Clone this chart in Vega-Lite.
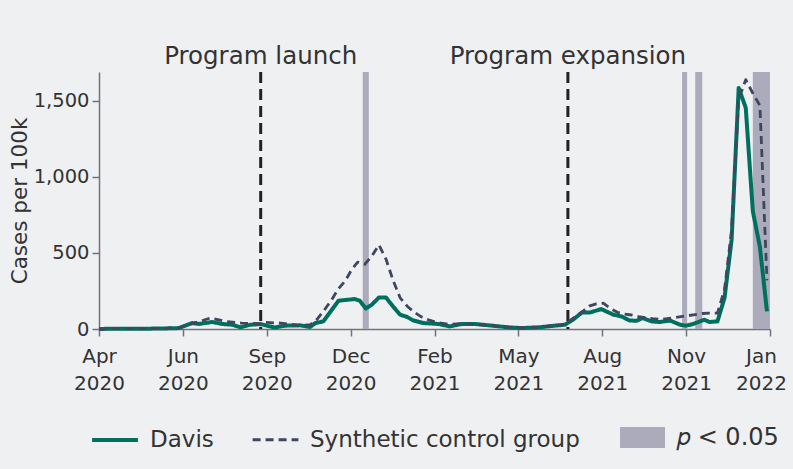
{
  "$schema": "https://vega.github.io/schema/vega-lite/v6.json",
  "width": 671,
  "height": 257,
  "autosize": {"type": "none"},
  "padding": {"left": 99, "top": 72, "right": 23, "bottom": 140},
  "background": "#eff0f2",
  "config": {
    "view": {"stroke": null},
    "font": "DejaVu Sans",
    "axis": {
      "domainColor": "#6f747b",
      "domainWidth": 1.5,
      "tickColor": "#6f747b",
      "tickWidth": 1.5,
      "tickSize": 7,
      "labelColor": "#333333",
      "labelFontSize": 19.5,
      "titleColor": "#333333",
      "titleFontSize": 22,
      "titleFontWeight": "normal",
      "grid": false
    },
    "legend": {
      "labelColor": "#333333",
      "labelFontSize": 23,
      "labelLimit": 400,
      "layout": {"bottom": {"anchor": "middle", "direction": "horizontal", "margin": 40}}
    }
  },
  "datasets": {
    "cases": [
      {"date": "2020-04-01", "group": "Davis", "value": 0},
      {"date": "2020-04-15", "group": "Davis", "value": 2},
      {"date": "2020-05-01", "group": "Davis", "value": 1},
      {"date": "2020-05-15", "group": "Davis", "value": 2},
      {"date": "2020-06-01", "group": "Davis", "value": 3},
      {"date": "2020-06-19", "group": "Davis", "value": 6},
      {"date": "2020-07-02", "group": "Davis", "value": 39},
      {"date": "2020-07-09", "group": "Davis", "value": 33},
      {"date": "2020-07-22", "group": "Davis", "value": 46},
      {"date": "2020-08-01", "group": "Davis", "value": 33},
      {"date": "2020-08-11", "group": "Davis", "value": 28},
      {"date": "2020-08-19", "group": "Davis", "value": 11},
      {"date": "2020-08-29", "group": "Davis", "value": 28},
      {"date": "2020-09-08", "group": "Davis", "value": 32},
      {"date": "2020-09-15", "group": "Davis", "value": 20},
      {"date": "2020-09-22", "group": "Davis", "value": 10},
      {"date": "2020-10-02", "group": "Davis", "value": 22},
      {"date": "2020-10-17", "group": "Davis", "value": 24},
      {"date": "2020-10-27", "group": "Davis", "value": 13},
      {"date": "2020-11-01", "group": "Davis", "value": 39},
      {"date": "2020-11-09", "group": "Davis", "value": 50},
      {"date": "2020-11-24", "group": "Davis", "value": 186},
      {"date": "2020-12-10", "group": "Davis", "value": 197},
      {"date": "2020-12-15", "group": "Davis", "value": 186},
      {"date": "2020-12-21", "group": "Davis", "value": 135},
      {"date": "2020-12-27", "group": "Davis", "value": 160},
      {"date": "2021-01-03", "group": "Davis", "value": 207},
      {"date": "2021-01-10", "group": "Davis", "value": 207},
      {"date": "2021-01-17", "group": "Davis", "value": 148},
      {"date": "2021-01-24", "group": "Davis", "value": 94},
      {"date": "2021-01-31", "group": "Davis", "value": 79},
      {"date": "2021-02-06", "group": "Davis", "value": 56},
      {"date": "2021-02-16", "group": "Davis", "value": 39},
      {"date": "2021-03-03", "group": "Davis", "value": 33},
      {"date": "2021-03-14", "group": "Davis", "value": 17},
      {"date": "2021-03-26", "group": "Davis", "value": 33},
      {"date": "2021-04-08", "group": "Davis", "value": 33},
      {"date": "2021-04-25", "group": "Davis", "value": 22},
      {"date": "2021-05-11", "group": "Davis", "value": 11},
      {"date": "2021-05-24", "group": "Davis", "value": 6},
      {"date": "2021-06-10", "group": "Davis", "value": 11},
      {"date": "2021-06-26", "group": "Davis", "value": 22},
      {"date": "2021-07-06", "group": "Davis", "value": 28},
      {"date": "2021-07-14", "group": "Davis", "value": 61},
      {"date": "2021-07-23", "group": "Davis", "value": 109},
      {"date": "2021-07-31", "group": "Davis", "value": 109},
      {"date": "2021-08-11", "group": "Davis", "value": 131},
      {"date": "2021-08-23", "group": "Davis", "value": 94},
      {"date": "2021-08-31", "group": "Davis", "value": 83},
      {"date": "2021-09-08", "group": "Davis", "value": 56},
      {"date": "2021-09-15", "group": "Davis", "value": 54},
      {"date": "2021-09-21", "group": "Davis", "value": 72},
      {"date": "2021-09-30", "group": "Davis", "value": 50},
      {"date": "2021-10-08", "group": "Davis", "value": 46},
      {"date": "2021-10-18", "group": "Davis", "value": 56},
      {"date": "2021-10-28", "group": "Davis", "value": 28},
      {"date": "2021-11-03", "group": "Davis", "value": 22},
      {"date": "2021-11-10", "group": "Davis", "value": 33},
      {"date": "2021-11-21", "group": "Davis", "value": 61},
      {"date": "2021-11-26", "group": "Davis", "value": 46},
      {"date": "2021-12-04", "group": "Davis", "value": 50},
      {"date": "2021-12-11", "group": "Davis", "value": 205},
      {"date": "2021-12-18", "group": "Davis", "value": 586},
      {"date": "2021-12-25", "group": "Davis", "value": 1585},
      {"date": "2022-01-01", "group": "Davis", "value": 1455},
      {"date": "2022-01-08", "group": "Davis", "value": 775},
      {"date": "2022-01-15", "group": "Davis", "value": 540},
      {"date": "2022-01-22", "group": "Davis", "value": 116},
      {"date": "2020-04-01", "group": "Synthetic control group", "value": 0},
      {"date": "2020-04-15", "group": "Synthetic control group", "value": 2},
      {"date": "2020-05-01", "group": "Synthetic control group", "value": 2},
      {"date": "2020-05-15", "group": "Synthetic control group", "value": 3},
      {"date": "2020-06-01", "group": "Synthetic control group", "value": 4},
      {"date": "2020-06-19", "group": "Synthetic control group", "value": 8},
      {"date": "2020-07-02", "group": "Synthetic control group", "value": 35},
      {"date": "2020-07-10", "group": "Synthetic control group", "value": 50},
      {"date": "2020-07-20", "group": "Synthetic control group", "value": 72},
      {"date": "2020-08-04", "group": "Synthetic control group", "value": 50},
      {"date": "2020-08-20", "group": "Synthetic control group", "value": 39},
      {"date": "2020-09-06", "group": "Synthetic control group", "value": 35},
      {"date": "2020-09-13", "group": "Synthetic control group", "value": 43},
      {"date": "2020-09-28", "group": "Synthetic control group", "value": 39},
      {"date": "2020-10-17", "group": "Synthetic control group", "value": 24},
      {"date": "2020-10-27", "group": "Synthetic control group", "value": 28},
      {"date": "2020-11-03", "group": "Synthetic control group", "value": 65},
      {"date": "2020-11-10", "group": "Synthetic control group", "value": 125},
      {"date": "2020-11-17", "group": "Synthetic control group", "value": 190},
      {"date": "2020-11-24", "group": "Synthetic control group", "value": 265},
      {"date": "2020-12-01", "group": "Synthetic control group", "value": 320},
      {"date": "2020-12-07", "group": "Synthetic control group", "value": 390},
      {"date": "2020-12-13", "group": "Synthetic control group", "value": 440},
      {"date": "2020-12-20", "group": "Synthetic control group", "value": 426},
      {"date": "2020-12-27", "group": "Synthetic control group", "value": 480},
      {"date": "2021-01-03", "group": "Synthetic control group", "value": 553},
      {"date": "2021-01-10", "group": "Synthetic control group", "value": 460},
      {"date": "2021-01-17", "group": "Synthetic control group", "value": 320},
      {"date": "2021-01-24", "group": "Synthetic control group", "value": 205},
      {"date": "2021-01-31", "group": "Synthetic control group", "value": 150},
      {"date": "2021-02-07", "group": "Synthetic control group", "value": 110},
      {"date": "2021-02-14", "group": "Synthetic control group", "value": 80},
      {"date": "2021-02-21", "group": "Synthetic control group", "value": 60},
      {"date": "2021-02-28", "group": "Synthetic control group", "value": 45},
      {"date": "2021-03-14", "group": "Synthetic control group", "value": 30},
      {"date": "2021-03-26", "group": "Synthetic control group", "value": 35},
      {"date": "2021-04-08", "group": "Synthetic control group", "value": 30},
      {"date": "2021-04-25", "group": "Synthetic control group", "value": 22},
      {"date": "2021-05-11", "group": "Synthetic control group", "value": 12},
      {"date": "2021-05-24", "group": "Synthetic control group", "value": 8},
      {"date": "2021-06-10", "group": "Synthetic control group", "value": 12},
      {"date": "2021-06-26", "group": "Synthetic control group", "value": 22},
      {"date": "2021-07-06", "group": "Synthetic control group", "value": 30},
      {"date": "2021-07-14", "group": "Synthetic control group", "value": 70},
      {"date": "2021-07-23", "group": "Synthetic control group", "value": 112},
      {"date": "2021-07-30", "group": "Synthetic control group", "value": 150},
      {"date": "2021-08-06", "group": "Synthetic control group", "value": 165},
      {"date": "2021-08-13", "group": "Synthetic control group", "value": 170},
      {"date": "2021-08-20", "group": "Synthetic control group", "value": 135},
      {"date": "2021-08-27", "group": "Synthetic control group", "value": 110},
      {"date": "2021-09-03", "group": "Synthetic control group", "value": 98},
      {"date": "2021-09-10", "group": "Synthetic control group", "value": 92},
      {"date": "2021-09-17", "group": "Synthetic control group", "value": 82},
      {"date": "2021-09-24", "group": "Synthetic control group", "value": 75},
      {"date": "2021-10-01", "group": "Synthetic control group", "value": 68},
      {"date": "2021-10-08", "group": "Synthetic control group", "value": 63},
      {"date": "2021-10-15", "group": "Synthetic control group", "value": 68},
      {"date": "2021-10-22", "group": "Synthetic control group", "value": 75},
      {"date": "2021-10-29", "group": "Synthetic control group", "value": 82},
      {"date": "2021-11-05", "group": "Synthetic control group", "value": 88},
      {"date": "2021-11-12", "group": "Synthetic control group", "value": 95},
      {"date": "2021-11-19", "group": "Synthetic control group", "value": 102},
      {"date": "2021-11-26", "group": "Synthetic control group", "value": 105},
      {"date": "2021-12-04", "group": "Synthetic control group", "value": 105},
      {"date": "2021-12-11", "group": "Synthetic control group", "value": 260},
      {"date": "2021-12-18", "group": "Synthetic control group", "value": 650},
      {"date": "2021-12-25", "group": "Synthetic control group", "value": 1510},
      {"date": "2022-01-01", "group": "Synthetic control group", "value": 1640},
      {"date": "2022-01-08", "group": "Synthetic control group", "value": 1550},
      {"date": "2022-01-15", "group": "Synthetic control group", "value": 1470},
      {"date": "2022-01-22", "group": "Synthetic control group", "value": 320}
    ],
    "shade": [
      {"date": "2020-12-18", "end": "2020-12-24", "label": "𝑝 < 0.05"},
      {"date": "2021-10-30", "end": "2021-11-04", "label": "𝑝 < 0.05"},
      {"date": "2021-11-12", "end": "2021-11-19", "label": "𝑝 < 0.05"},
      {"date": "2022-01-08", "end": "2022-01-25", "label": "𝑝 < 0.05"}
    ],
    "events": [
      {"date": "2020-09-08", "label": "Program launch"},
      {"date": "2021-07-09", "label": "Program expansion"}
    ]
  },
  "encoding": {
    "x": {
      "field": "date",
      "type": "temporal",
      "title": null,
      "scale": {
        "type": "utc",
        "domain": [
          {"year": 2020, "month": 4, "date": 1, "utc": true},
          {"year": 2022, "month": 1, "date": 25, "utc": true}
        ]
      },
      "axis": {
        "values": [
          {"year": 2020, "month": 4, "date": 1, "utc": true},
          {"year": 2020, "month": 6, "date": 23, "utc": true},
          {"year": 2020, "month": 9, "date": 14, "utc": true},
          {"year": 2020, "month": 12, "date": 6, "utc": true},
          {"year": 2021, "month": 2, "date": 27, "utc": true},
          {"year": 2021, "month": 5, "date": 21, "utc": true},
          {"year": 2021, "month": 8, "date": 12, "utc": true},
          {"year": 2021, "month": 11, "date": 3, "utc": true},
          {"year": 2022, "month": 1, "date": 25, "utc": true}
        ],
        "labelExpr": "[utcFormat(datum.value, '%b'), utcFormat(datum.value, '%Y')]",
        "labelLineHeight": 27,
        "labelPadding": 10,
        "labelFontSize": 20,
        "labelOffset": {"condition": {"test": "utcyear(datum.value) == 2022", "value": -9}, "value": 0},
        "labelFlush": false,
        "labelOverlap": false
      }
    }
  },
  "layer": [
    {
      "data": {"name": "shade"},
      "mark": {"type": "rect", "color": "#acabbb"},
      "encoding": {
        "x2": {"field": "end"}
      }
    },
    {
      "data": {"name": "events"},
      "mark": {"type": "rule", "color": "#222222", "strokeWidth": 3, "strokeDash": [11, 6]},
      "encoding": {}
    },
    {
      "data": {"name": "events"},
      "mark": {"type": "text", "fontSize": 24.5, "color": "#333333", "baseline": "alphabetic", "align": "center", "dy": -8},
      "encoding": {
        "y": {"datum": 1690, "type": "quantitative", "scale": {"domain": [0, 1690], "nice": false}, "axis": {"values": [0, 500, 1000, 1500], "format": ",.0f", "title": "Cases per 100k", "titleFontSize": 21.5, "titlePadding": 2, "labelPadding": 3}},
        "text": {"field": "label"}
      }
    },
    {
      "data": {"name": "cases"},
      "mark": {"type": "line", "strokeJoin": "round"},
      "encoding": {
        "y": {
          "field": "value",
          "type": "quantitative",
          "scale": {"domain": [0, 1690], "nice": false},
          "axis": {"values": [0, 500, 1000, 1500], "format": ",.0f", "title": "Cases per 100k", "titleFontSize": 21.5, "titlePadding": 2, "labelPadding": 3}
        },
        "color": {
          "field": "group",
          "type": "nominal",
          "scale": {"domain": ["Davis", "Synthetic control group"], "range": ["#00705e", "#3e4660"]},
          "legend": {
            "title": null,
            "orient": "bottom",
            "direction": "horizontal",
            "offset": 22,
            "symbolType": "stroke",
            "symbolSize": 2100,
            "symbolStrokeWidth": 4,
            "columnPadding": 32,
            "labelOffset": 10
          }
        },
        "strokeDash": {
          "field": "group",
          "type": "nominal",
          "scale": {"domain": ["Davis", "Synthetic control group"], "range": [[1, 0], [8, 5]]},
          "legend": {
            "title": null,
            "orient": "bottom",
            "direction": "horizontal",
            "offset": 22,
            "symbolType": "stroke",
            "symbolSize": 2100,
            "symbolStrokeWidth": 4,
            "columnPadding": 32,
            "labelOffset": 10
          }
        },
        "strokeWidth": {
          "field": "group",
          "type": "nominal",
          "scale": {"domain": ["Davis", "Synthetic control group"], "range": [4, 2.8]},
          "legend": null
        }
      }
    },
    {
      "data": {"name": "shade"},
      "mark": {"type": "rect", "opacity": 0},
      "encoding": {
        "x2": {"field": "end"},
        "fill": {
          "field": "label",
          "type": "nominal",
          "scale": {"range": ["#acabbb"]},
          "legend": {
            "title": null,
            "orient": "bottom",
            "offset": 22,
            "symbolType": "M-1,-0.47H1V0.47H-1Z",
            "symbolSize": 2025,
            "symbolStrokeWidth": 0,
            "symbolOpacity": 1,
            "labelOffset": 12,
            "labelFontSize": 24
          }
        }
      }
    }
  ]
}
